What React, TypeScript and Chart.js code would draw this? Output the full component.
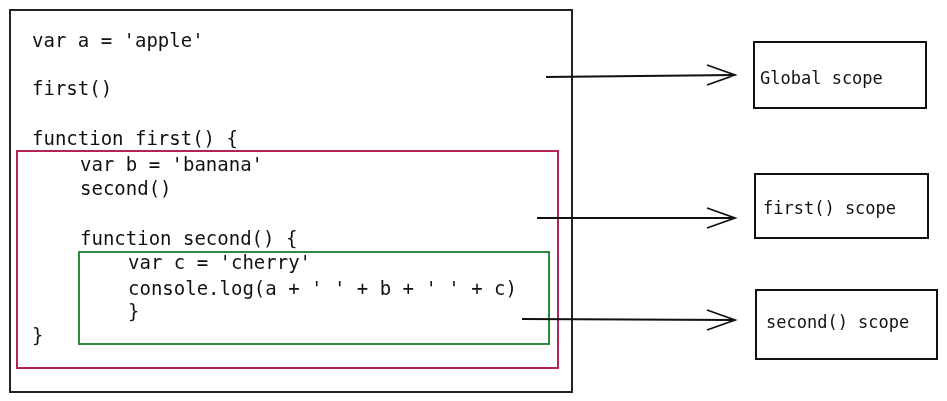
import { useEffect, useRef } from "react";
import { Chart, registerables } from "chart.js";
Chart.register(...registerables);

// code lines: [indent level, baseline y, text]
const codeIndent = [0, 0, 0, 1, 1, 1, 2, 2, 2, 0];
const codeY = [47, 95, 145, 171, 195, 245, 269, 295, 318, 342];
const codeText = [
  "var a = 'apple'",
  "first()",
  "function first() {",
  "var b = 'banana'",
  "second()",
  "function second() {",
  "var c = 'cherry'",
  "console.log(a + ' ' + b + ' ' + c)",
  "}",
  "}",
];
const indentX = [32, 80, 128];

// rectangles: x1, y1, x2, y2
const rectNames = ["code", "first", "second", "global box", "first box", "second box"];
const rectX1 = [10, 17, 79, 754, 755, 756];
const rectY1 = [10, 151, 252, 42, 174, 290];
const rectX2 = [572, 558, 549, 926, 928, 937];
const rectY2 = [392, 368, 344, 108, 238, 359];
const rectColor = ["#222", "#b22455", "#2e8b3e", "#111", "#111", "#111"];

const labelText = ["Global scope", "first() scope", "second() scope"];
const labelX = [760, 763, 766];
const labelY = [84, 214, 328];

const arrowX1 = [546, 537, 522];
const arrowY1 = [77, 218, 319];
const arrowX2 = [735, 735, 735];
const arrowY2 = [75, 218, 320];

const MONO = "'DejaVu Sans Mono', monospace";

const diagram = {
  id: "diagram",
  afterDraw(chart: Chart) {
    const { ctx } = chart;
    const xs = chart.scales.x;
    const ys = chart.scales.y;
    const px = (v: number) => xs.getPixelForValue(v);
    const py = (v: number) => ys.getPixelForValue(v);
    ctx.save();
    ctx.lineWidth = 2;
    rectNames.forEach((_, i) => {
      ctx.strokeStyle = rectColor[i];
      ctx.strokeRect(px(rectX1[i]), py(rectY1[i]), px(rectX2[i]) - px(rectX1[i]), py(rectY2[i]) - py(rectY1[i]));
    });
    ctx.fillStyle = "#111";
    ctx.font = `19px ${MONO}`;
    codeText.forEach((t, i) => ctx.fillText(t, px(indentX[codeIndent[i]]), py(codeY[i])));
    ctx.font = `17px ${MONO}`;
    labelText.forEach((t, i) => ctx.fillText(t, px(labelX[i]), py(labelY[i])));
    ctx.strokeStyle = "#111";
    ctx.lineWidth = 1.8;
    arrowX1.forEach((_, i) => {
      const x1 = px(arrowX1[i]), y1 = py(arrowY1[i]), x2 = px(arrowX2[i]), y2 = py(arrowY2[i]);
      ctx.beginPath();
      ctx.moveTo(x1, y1);
      ctx.lineTo(x2, y2);
      ctx.moveTo(x2 - 28, y2 - 10);
      ctx.lineTo(x2, y2);
      ctx.lineTo(x2 - 28, y2 + 10);
      ctx.stroke();
    });
    ctx.restore();
  },
};

export default function App() {
  const ref = useRef<HTMLCanvasElement>(null);
  useEffect(() => {
    document.body.style.margin = "0";
    if (!ref.current) return;
    const chart = new Chart(ref.current, {
      type: "scatter",
      data: { datasets: [{ data: [] }] },
      options: {
        animation: false,
        responsive: false,
        layout: { padding: 0 },
        plugins: { legend: { display: false }, tooltip: { enabled: false } },
        scales: {
          x: { type: "linear", min: 0, max: 947, display: false },
          y: { type: "linear", min: 0, max: 401, reverse: true, display: false },
        },
      },
      plugins: [diagram],
    });
    return () => chart.destroy();
  }, []);
  return (
    <div style={{ width: 947, height: 401, background: "#fff" }}>
      <canvas ref={ref} width={947} height={401} />
    </div>
  );
}
